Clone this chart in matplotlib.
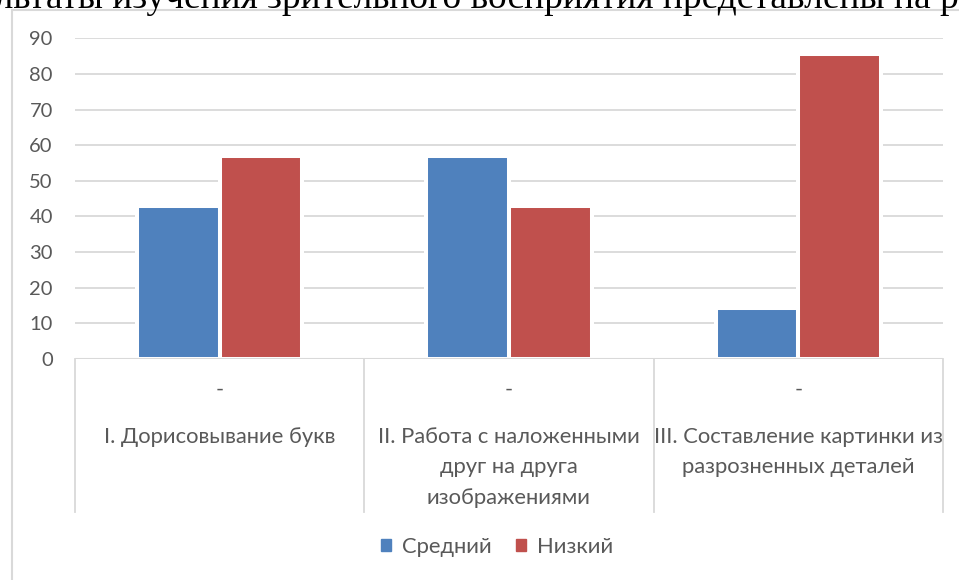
import matplotlib
matplotlib.use('Agg')
import matplotlib.pyplot as plt
from matplotlib.patches import Rectangle
import numpy as np

plt.rcParams['font.family'] = ['Lato', 'DejaVu Sans']

title = 'Результаты изучения зрительного восприятия представлены на рисунке'
categories = ['I. Дорисовывание букв',
              'II. Работа с наложенными\nдруг на друга\nизображениями',
              'III. Составление картинки из\nразрозненных деталей']
sub_labels = ['-', '-', '-']
series_names = ['Средний', 'Низкий']
medium = [42.9, 57.1, 14.3]
low = [57.1, 42.9, 85.7]
colors = ['#4F81BD', '#C0504D']
grey = '#D9D9D9'
text_grey = '#595959'

W, H = 959, 580
fig = plt.figure(figsize=(W / 100, H / 100), dpi=100)


def px(x0, y0, x1, y1):
    # pixel box (top-left origin) -> figure fraction rect
    return [x0 / W, 1 - y1 / H, (x1 - x0) / W, (y1 - y0) / H]


ax = fig.add_axes(px(75, 38.3, 943, 359))
ax_h = 359 - 38.3

x = np.arange(len(categories))
width = 0.286
ax.bar(x - width / 2, medium, width, color=colors[0], edgecolor='white', linewidth=2.9, zorder=2)
ax.bar(x + width / 2, low, width, color=colors[1], edgecolor='white', linewidth=2.9, zorder=2)

ax.set_xlim(-0.5, len(categories) - 0.5)
ax.set_ylim(0, 90)
ax.set_yticks(range(0, 91, 10))
ax.set_xticks([])
ax.yaxis.grid(True, color=grey, lw=1.3)
ax.set_axisbelow(True)
ax.tick_params(axis='y', length=0, pad=16, labelsize=14.5, labelcolor=text_grey)
for s in ax.spines.values():
    s.set_visible(False)
ax.axhline(0, color=grey, lw=1.5, zorder=3)

# multi-level category table under the axis
tr = ax.get_xaxis_transform()
table_bottom = -(512 - 359) / ax_h
for xb in np.arange(-0.5, len(categories), 1.0):
    ax.plot([xb, xb], [0, table_bottom], transform=tr, clip_on=False, color=grey, lw=1.3)
for i, (sub, cat) in enumerate(zip(sub_labels, categories)):
    ax.text(i, -(390 - 359) / ax_h, sub, transform=tr, ha='center', va='center',
            fontsize=15.8, color=text_grey)
    ax.text(i, -(427 - 359) / ax_h, cat, transform=tr, ha='center', va='top',
            fontsize=15.8, color=text_grey, linespacing=1.65)

handles = [Rectangle((0, 0), 1, 1, color=c) for c in colors]
ax.legend(handles, series_names, loc='center', bbox_to_anchor=(497 / W, 1 - 547 / H),
          bbox_transform=fig.transFigure, ncol=2, frameon=False, fontsize=15.8,
          labelcolor=text_grey, handlelength=0.45, handleheight=0.45,
          handletextpad=0.5, columnspacing=1.1)

# chart frame
fig.patches.append(Rectangle((12 / W, -0.1), 1.2, 1.1 - 10 / H, transform=fig.transFigure,
                             fill=False, ec=grey, lw=1.5))

# document text above the chart, cut off by the screenshot
t = fig.text(0, 1 - 8 / H, title, family='Liberation Serif', fontsize=27, va='baseline')
renderer = fig.canvas.get_renderer()
p = fig.text(0, 0, 'Резу', family='Liberation Serif', fontsize=27)
w = p.get_window_extent(renderer).width
p.remove()
t.set_x((-w - 4) / W)

fig.savefig('out.png', dpi=100)
